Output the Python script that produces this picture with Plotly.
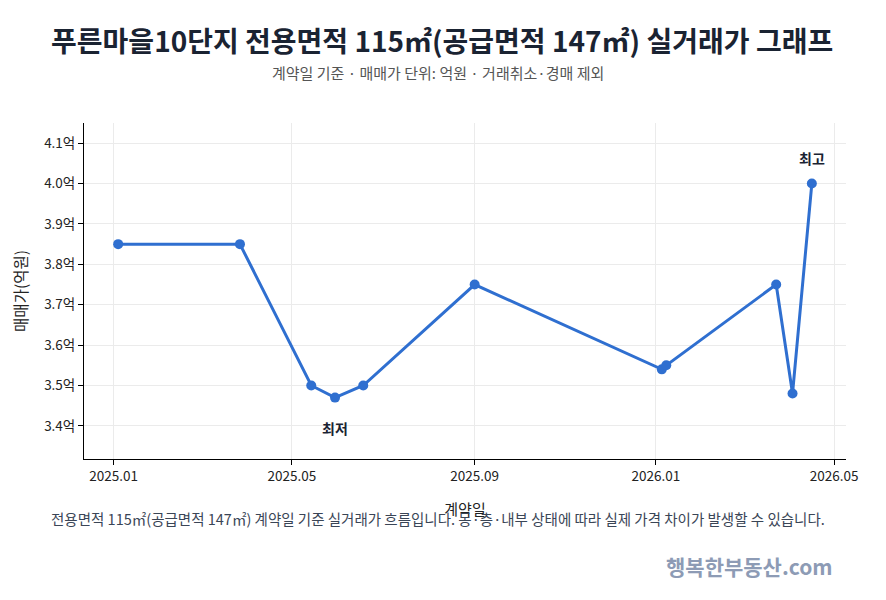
import plotly.graph_objects as go

dates = ["2025-01-04", "2025-03-27", "2025-05-14", "2025-05-30", "2025-06-18",
         "2025-09-01", "2026-01-05", "2026-01-08", "2026-03-23", "2026-04-03", "2026-04-16"]
prices = [3.85, 3.85, 3.50, 3.47, 3.50, 3.75, 3.54, 3.55, 3.75, 3.48, 4.00]

y_tickvals = [3.4, 3.5, 3.6, 3.7, 3.8, 3.9, 4.0, 4.1]
y_ticktext = ["3.4억", "3.5억", "3.6억", "3.7억", "3.8억", "3.9억", "4.0억", "4.1억"]
x_tickvals = ["2025-01-01", "2025-05-01", "2025-09-01", "2026-01-01", "2026-05-01"]
x_ticktext = ["2025.01", "2025.05", "2025.09", "2026.01", "2026.05"]

FONT = "Noto Sans CJK KR"
LINE = "#2f6fd0"

fig = go.Figure()
fig.add_trace(go.Scatter(
    x=dates, y=prices, mode="lines+markers",
    line=dict(color=LINE, width=3),
    marker=dict(color=LINE, size=10),
    hoverinfo="skip", showlegend=False,
))

imax = prices.index(max(prices))
imin = prices.index(min(prices))
fig.add_annotation(x=dates[imax], y=prices[imax], text="<b>최고</b>", showarrow=False,
                   yshift=26, font=dict(size=14, color="#1a2332", family=FONT))
fig.add_annotation(x=dates[imin], y=prices[imin], text="<b>최저</b>", showarrow=False,
                   yshift=-30, font=dict(size=14, color="#1a2332", family=FONT))

fig.update_layout(
    width=886, height=600,
    margin=dict(l=84, r=40, t=123, b=141),
    paper_bgcolor="white", plot_bgcolor="white",
    font=dict(family=FONT, color="#222"),
    title=dict(
        text="<b>푸른마을10단지 전용면적 115㎡(공급면적 147㎡) 실거래가 그래프</b>",
        x=0.47, xanchor="center", xref="paper", y=1 - 42 / 600, yanchor="middle",
        font=dict(size=28, color="#1a2332", family=FONT),
    ),
    xaxis=dict(
        range=["2024-12-12", "2026-05-09"],
        tickvals=x_tickvals, ticktext=x_ticktext,
        showgrid=True, gridcolor="#ebebeb", gridwidth=1,
        showline=True, linecolor="black", linewidth=1,
        ticks="outside", ticklen=5, tickcolor="black",
        tickfont=dict(size=13.5, color="#222"),
        title=dict(text="계약일", font=dict(size=15, color="#222"), standoff=20),
        zeroline=False,
    ),
    yaxis=dict(
        range=[3.318, 4.15],
        tickvals=y_tickvals, ticktext=y_ticktext,
        showgrid=True, gridcolor="#ebebeb", gridwidth=1,
        showline=True, linecolor="black", linewidth=1,
        ticks="outside", ticklen=5, tickcolor="black",
        tickfont=dict(size=13.5, color="#222"),
        title=dict(text="매매가(억원)", font=dict(size=15.5, color="#222"), standoff=12),
        zeroline=False,
    ),
)

fig.add_annotation(xref="paper", yref="paper", x=0.4646, xanchor="center", y=(459 - 72) / 336, yanchor="middle",
                   text="계약일 기준 · 매매가 단위: 억원 · 거래취소·경매 제외",
                   showarrow=False, font=dict(size=15, color="#555", family=FONT))
fig.add_annotation(xref="paper", yref="paper", x=0.4646, xanchor="center", y=-0.178, yanchor="middle",
                   text="전용면적 115㎡(공급면적 147㎡) 계약일 기준 실거래가 흐름입니다. 동·층·내부 상태에 따라 실제 가격 차이가 발생할 수 있습니다.",
                   showarrow=False, font=dict(size=14.5, color="#3a4556", family=FONT))
fig.add_annotation(xref="paper", yref="paper", x=0.985, xanchor="right", y=-0.318, yanchor="middle",
                   text="<b>행복한부동산.com</b>", showarrow=False,
                   font=dict(size=21, color="#8d9bb5", family=FONT))

fig.write_html("out.html")
